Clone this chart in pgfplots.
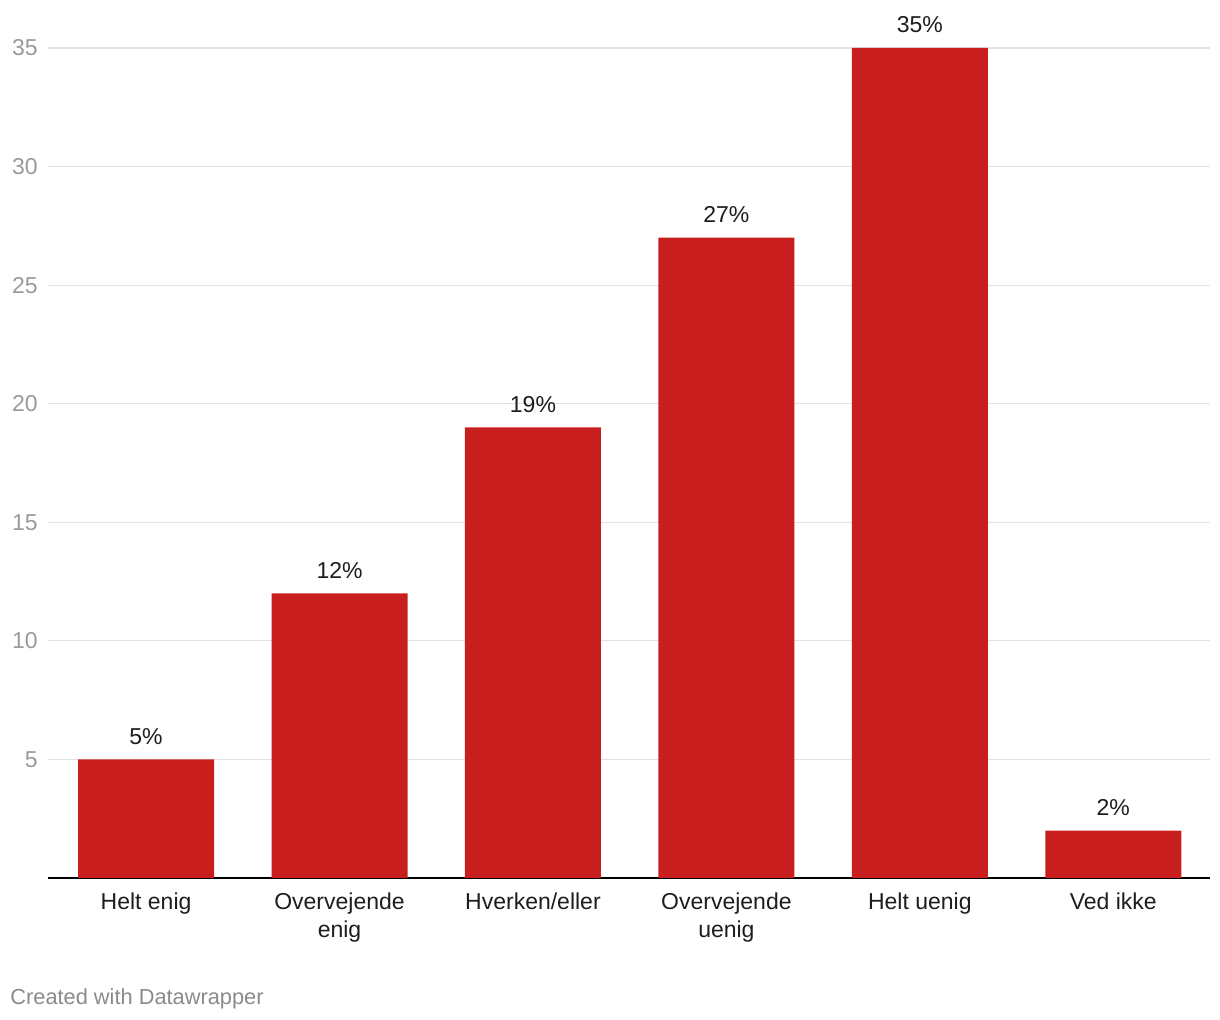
\documentclass[border=0pt]{standalone}
\usepackage{pgfplots}
\pgfplotsset{compat=1.18}
\usepackage{fontspec}
\setmainfont{Liberation Sans}
\definecolor{barred}{HTML}{C81E1E}
\definecolor{gridgray}{HTML}{E2E2E2}
\definecolor{ticktxt}{HTML}{9A9A9A}
\definecolor{labtxt}{HTML}{1D1D1D}
\definecolor{credit}{HTML}{8A8A8A}
\begin{document}
\begin{tikzpicture}
\useasboundingbox (-24pt,-71pt) rectangle (586pt,439pt);
\begin{axis}[
  scale only axis,
  width=581pt, height=415pt,
  xmin=-0.507, xmax=5.5,
  ymin=0, ymax=35,
  axis y line*=left,
  y axis line style={draw=none},
  axis x line*=bottom,
  x axis line style={draw=black, line width=0.8pt, -},
  ytick={5,10,15,20,25,30,35},
  ymajorgrids,
  grid style={gridgray, line width=0.6pt},
  major tick length=0pt,
  xtick={0,1,2,3,4,5},
  xticklabels={Helt enig,{Overvejende\\enig},Hverken/eller,{Overvejende\\uenig},Helt uenig,Ved ikke},
  xticklabel style={font=\fontsize{11.5}{14}\selectfont, text=labtxt, align=center, anchor=north, yshift=-4pt},
  yticklabel style={font=\fontsize{11.5}{14}\selectfont, text=ticktxt, anchor=east, inner sep=0pt, xshift=-5pt},
  ytick style={draw=none},
  xtick style={draw=none},
  /pgf/number format/assume math mode=true,
  clip=false,
  ybar, bar width=68pt,
  nodes near coords={\pgfmathprintnumber{\pgfplotspointmeta}\%},
  every node near coord/.append style={font=\fontsize{11.5}{14}\selectfont, text=labtxt, yshift=4pt},
]
\addplot[fill=barred, draw=none] coordinates {(0,5) (1,12) (2,19) (3,27) (4,35) (5,2)};
\end{axis}
\node[anchor=west, font=\fontsize{10.9}{13}\selectfont, text=credit, inner sep=0pt] at (-19pt,-60.5pt) {Created with Datawrapper};
\end{tikzpicture}
\end{document}
